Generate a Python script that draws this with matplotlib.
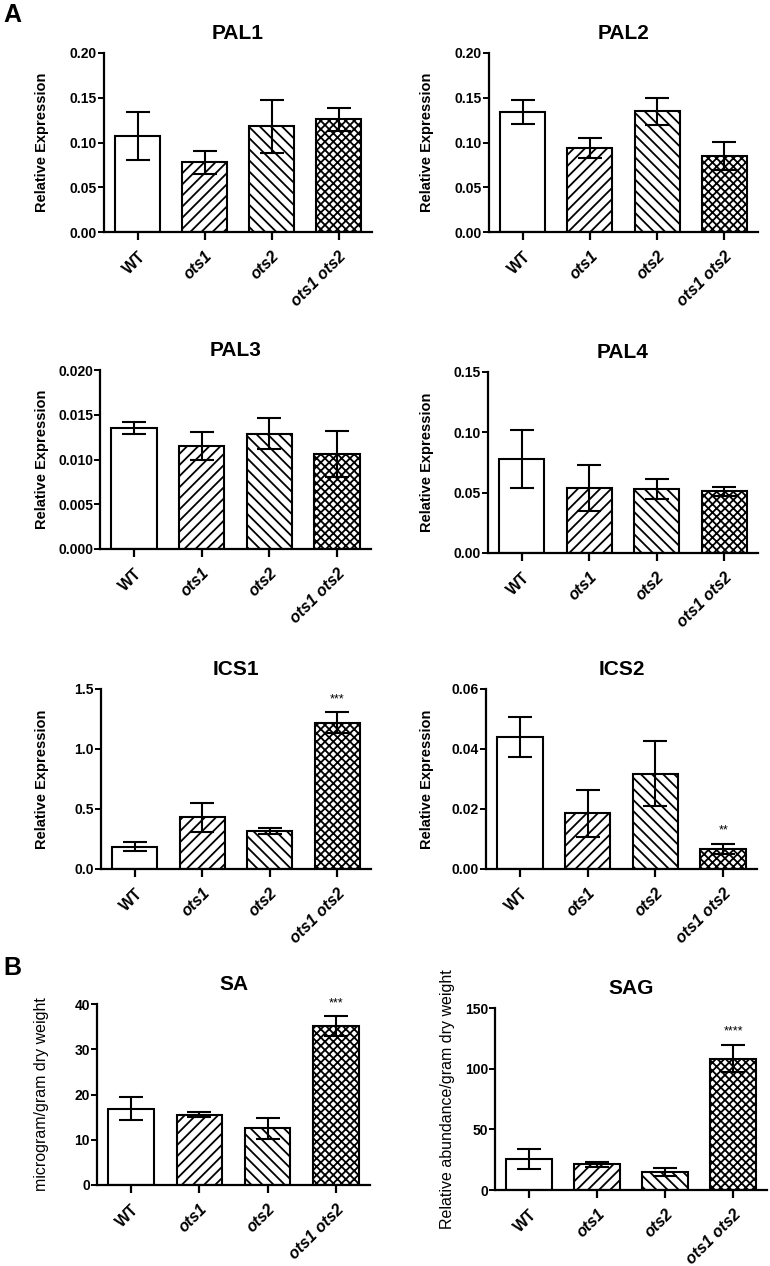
import matplotlib
matplotlib.use("Agg")
from matplotlib import pyplot as plt
from matplotlib.ticker import FormatStrFormatter

plt.rcParams["font.family"] = ["Liberation Sans", "DejaVu Sans"]
plt.rcParams["hatch.linewidth"] = 1.3

groups = ["WT", "ots1", "ots2", "ots1 ots2"]
hatches = ["", "///", "\\\\\\", "xxxx"]

pal1_mean = [0.107, 0.078, 0.118, 0.126]
pal1_err = [0.027, 0.013, 0.030, 0.013]
pal2_mean = [0.134, 0.094, 0.135, 0.085]
pal2_err = [0.013, 0.011, 0.015, 0.016]
pal3_mean = [0.0135, 0.0115, 0.0129, 0.0106]
pal3_err = [0.0007, 0.0016, 0.0017, 0.0026]
pal4_mean = [0.078, 0.054, 0.053, 0.051]
pal4_err = [0.024, 0.019, 0.008, 0.004]
ics1_mean = [0.186, 0.43, 0.317, 1.22]
ics1_err = [0.040, 0.12, 0.028, 0.087]
ics2_mean = [0.0441, 0.0186, 0.0318, 0.0067]
ics2_err = [0.0067, 0.0078, 0.0107, 0.0017]
sa_mean = [16.9, 15.5, 12.5, 35.1]
sa_err = [2.5, 0.55, 2.4, 2.2]
sag_mean = [25.5, 21.2, 15.1, 108.3]
sag_err = [8.5, 1.9, 3.3, 11.4]

W, H = 770, 1266
fig = plt.figure(figsize=(W / 100, H / 100), dpi=100)


def px_axes(left, top, right, bottom):
    return fig.add_axes([left / W, 1 - bottom / H, (right - left) / W, (bottom - top) / H])


# (title, mean, err, ymax, ystep, fmt, ylabel, stars, pixel box, ylabel x in px)
panels = [
    ("PAL1", pal1_mean, pal1_err, 0.20, 0.05, "%.2f", "Relative Expression", "", (104, 53, 372, 232), 42),
    ("PAL2", pal2_mean, pal2_err, 0.20, 0.05, "%.2f", "Relative Expression", "", (489, 53, 758, 232), 427),
    ("PAL3", pal3_mean, pal3_err, 0.020, 0.005, "%.3f", "Relative Expression", "", (100, 370, 371, 549), 42),
    ("PAL4", pal4_mean, pal4_err, 0.15, 0.05, "%.2f", "Relative Expression", "", (488, 372, 758, 553), 427),
    ("ICS1", ics1_mean, ics1_err, 1.5, 0.5, "%.1f", "Relative Expression", "***", (101, 689, 371, 869), 42),
    ("ICS2", ics2_mean, ics2_err, 0.06, 0.02, "%.2f", "Relative Expression", "**", (486, 689, 757, 869), 427),
    ("SA", sa_mean, sa_err, 40, 10, "%d", "microgram/gram dry weight", "***", (97, 1004, 370, 1185), 42),
    ("SAG", sag_mean, sag_err, 150, 50, "%d", "Relative abundance/gram dry weight", "****", (495, 1008, 767, 1190), 447),
]

for title, mean, err, ymax, ystep, fmt, ylabel, stars, box, lab_x in panels:
    ax = px_axes(*box)
    x = list(range(len(groups)))
    for xi, m, h in zip(x, mean, hatches):
        ax.bar(xi, m, width=0.67, color="white", edgecolor="black", linewidth=1.5,
               hatch=h, zorder=2)
    ax.errorbar(x, mean, yerr=err, fmt="none", ecolor="black", elinewidth=1.5,
                capsize=8.5, capthick=1.5, zorder=3)
    if stars:
        top = mean[-1] + err[-1]
        ax.text(3, top + ymax * 0.04, stars, ha="center", va="bottom", fontsize=9)
    ax.set_xlim(-0.5, 3.5)
    ax.set_ylim(0, ymax)
    n = int(round(ymax / ystep))
    ax.set_yticks([i * ystep for i in range(n + 1)])
    ax.yaxis.set_major_formatter(FormatStrFormatter(fmt))
    ax.set_xticks(x)
    ax.set_xticklabels(groups, rotation=45, ha="right", rotation_mode="anchor",
                       fontsize=11.5, fontweight="bold")
    for lab in ax.get_xticklabels()[1:]:
        lab.set_fontstyle("italic")
    for lab in ax.get_yticklabels():
        lab.set_fontweight("bold")
        lab.set_fontsize(10)
    ax.spines["top"].set_visible(False)
    ax.spines["right"].set_visible(False)
    ax.spines["left"].set_linewidth(1.6)
    ax.spines["bottom"].set_linewidth(1.6)
    ax.tick_params(axis="y", length=4, width=1.4, pad=1)
    ax.tick_params(axis="x", length=6, width=1.6, pad=6)
    ax.set_title(title, fontsize=15, fontweight="bold", pad=10)
    if ylabel == "Relative Expression":
        ax.set_ylabel(ylabel, fontsize=10.5, fontweight="bold")
    else:
        ax.set_ylabel(ylabel, fontsize=11.5)
    ax.yaxis.set_label_coords((lab_x - box[0]) / (box[2] - box[0]), 0.5)
    ax.yaxis.label.set_verticalalignment("center")

fig.text(3 / W, 1 - 3 / H, "A", fontsize=18, fontweight="bold", va="top", ha="left")
fig.text(3 / W, 1 - 956 / H, "B", fontsize=18, fontweight="bold", va="top", ha="left")

fig.savefig("out.png", dpi=100)
